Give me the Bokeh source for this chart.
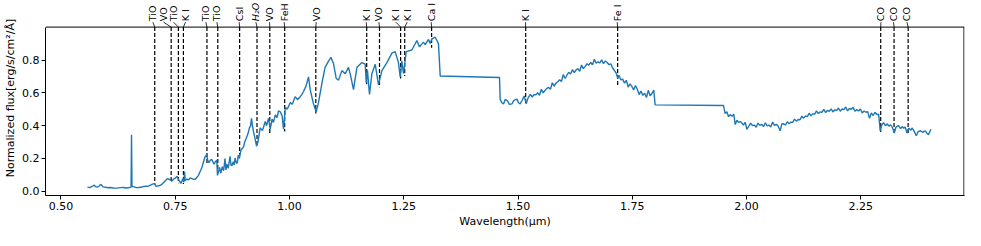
from bokeh.plotting import figure
from bokeh.models import Range1d, FixedTicker, NumeralTickFormatter
from bokeh.core.properties import value
from bokeh.embed import file_html
from bokeh.resources import INLINE

# spectrum pieces: (wavelength in micron, normalized flux)
optical = [(0.558, 0.025), (0.563, 0.022), (0.568, 0.029), (0.573, 0.037), (0.576, 0.028), (0.579, 0.025),
           (0.583, 0.030), (0.5875, 0.042), (0.592, 0.027), (0.598, 0.024), (0.603, 0.021), (0.608, 0.023),
           (0.615, 0.020), (0.6225, 0.019), (0.630, 0.022), (0.637, 0.023), (0.643, 0.020), (0.650, 0.023),
           (0.6535, 0.025), (0.6545, 0.345), (0.6555, 0.030), (0.660, 0.027), (0.665, 0.022), (0.670, 0.023),
           (0.677, 0.026), (0.6845, 0.031), (0.690, 0.030), (0.695, 0.036), (0.699, 0.042), (0.704, 0.047),
           (0.7085, 0.030), (0.712, 0.033), (0.717, 0.035), (0.722, 0.045), (0.728, 0.062), (0.733, 0.077),
           (0.739, 0.070), (0.743, 0.062), (0.746, 0.073), (0.750, 0.080), (0.754, 0.091), (0.758, 0.067),
           (0.7625, 0.048), (0.767, 0.077), (0.769, 0.055), (0.7705, 0.120), (0.772, 0.065), (0.775, 0.073),
           (0.779, 0.070), (0.783, 0.081), (0.788, 0.075), (0.794, 0.073), (0.801, 0.097), (0.8085, 0.145),
           (0.813, 0.190), (0.816, 0.213), (0.819, 0.223), (0.821, 0.190), (0.824, 0.174), (0.827, 0.190),
           (0.830, 0.194), (0.835, 0.165), (0.838, 0.180), (0.841, 0.190), (0.8425, 0.097), (0.845, 0.120),
           (0.847, 0.145), (0.850, 0.110), (0.853, 0.150), (0.856, 0.125), (0.859, 0.200), (0.861, 0.130),
           (0.863, 0.165), (0.866, 0.140), (0.870, 0.213), (0.872, 0.160), (0.874, 0.155), (0.877, 0.180),
           (0.879, 0.160), (0.881, 0.203), (0.884, 0.170), (0.886, 0.174), (0.888, 0.220), (0.8905, 0.200),
           (0.894, 0.252), (0.8995, 0.271), (0.902, 0.300), (0.905, 0.320), (0.909, 0.349), (0.9125, 0.387),
           (0.915, 0.400), (0.917, 0.445), (0.919, 0.400), (0.921, 0.368), (0.924, 0.330), (0.928, 0.275),
           (0.931, 0.300), (0.936, 0.387), (0.941, 0.370), (0.947, 0.426), (0.950, 0.400), (0.954, 0.445),
           (0.958, 0.380), (0.962, 0.440), (0.965, 0.420), (0.969, 0.465), (0.973, 0.450), (0.976, 0.490),
           (0.980, 0.484), (0.984, 0.460), (0.987, 0.378), (0.991, 0.513), (0.995, 0.500)]
j_band = [(1.002, 0.542), (1.006, 0.530), (1.0125, 0.577), (1.018, 0.560), (1.0235, 0.577), (1.027, 0.590),
          (1.031, 0.610), (1.036, 0.640), (1.0417, 0.698), (1.0454, 0.620), (1.0526, 0.533), (1.0585, 0.484),
          (1.0636, 0.542), (1.071, 0.659), (1.078, 0.756), (1.0855, 0.794), (1.0907, 0.817), (1.0964, 0.779),
          (1.1023, 0.688), (1.1073, 0.678), (1.1147, 0.736), (1.122, 0.717), (1.1292, 0.756), (1.1344, 0.698),
          (1.1401, 0.620), (1.1476, 0.756), (1.1585, 0.785), (1.1657, 0.775), (1.168, 0.659), (1.1707, 0.736),
          (1.1751, 0.591), (1.1803, 0.717), (1.1876, 0.775), (1.1948, 0.649), (1.2022, 0.736), (1.2132, 0.785),
          (1.2241, 0.843), (1.2313, 0.852), (1.2385, 0.785), (1.2422, 0.698), (1.2459, 0.794), (1.2495, 0.717),
          (1.2554, 0.852), (1.2678, 0.862), (1.2788, 0.920), (1.2845, 0.881), (1.2932, 0.910), (1.2969, 0.895),
          (1.3042, 0.926), (1.3079, 0.901), (1.3116, 0.930), (1.3188, 0.940), (1.3226, 0.920), (1.3260, 0.901),
          (1.3298, 0.703), (1.4595, 0.694)]
h_band = [(1.461, 0.562), (1.4645, 0.540), (1.4683, 0.533), (1.472, 0.560), (1.477, 0.552), (1.481, 0.530),
          (1.4866, 0.533), (1.491, 0.555), (1.4976, 0.562), (1.501, 0.540), (1.5048, 0.533), (1.509, 0.555),
          (1.5135, 0.581), (1.518, 0.533), (1.522, 0.570), (1.527, 0.591), (1.531, 0.575), (1.535, 0.590),
          (1.539, 0.588), (1.543, 0.601), (1.547, 0.585), (1.551, 0.622), (1.555, 0.600), (1.559, 0.615),
          (1.563, 0.628), (1.567, 0.633), (1.571, 0.622), (1.575, 0.662), (1.579, 0.641), (1.583, 0.660),
          (1.587, 0.668), (1.591, 0.680), (1.595, 0.670), (1.599, 0.712), (1.603, 0.688), (1.607, 0.708),
          (1.611, 0.725), (1.615, 0.716), (1.619, 0.742), (1.623, 0.724), (1.627, 0.740), (1.631, 0.748),
          (1.635, 0.732), (1.639, 0.770), (1.643, 0.748), (1.647, 0.762), (1.651, 0.778), (1.655, 0.770),
          (1.659, 0.786), (1.663, 0.772), (1.667, 0.805), (1.671, 0.782), (1.675, 0.790), (1.679, 0.784),
          (1.683, 0.802), (1.687, 0.779), (1.691, 0.795), (1.695, 0.786), (1.699, 0.772), (1.703, 0.778),
          (1.707, 0.752), (1.711, 0.736), (1.715, 0.720), (1.718, 0.690), (1.721, 0.708), (1.725, 0.680),
          (1.729, 0.684), (1.733, 0.660), (1.737, 0.677), (1.741, 0.636), (1.745, 0.655), (1.749, 0.640),
          (1.753, 0.618), (1.757, 0.645), (1.761, 0.622), (1.765, 0.590), (1.769, 0.612), (1.773, 0.585),
          (1.777, 0.598), (1.781, 0.572), (1.785, 0.616), (1.789, 0.583), (1.793, 0.596), (1.797, 0.618),
          (1.800, 0.527), (1.9496, 0.523)]
k_band = [(1.9532, 0.474), (1.957, 0.486), (1.9605, 0.455), (1.964, 0.468), (1.9679, 0.458), (1.972, 0.470),
          (1.9752, 0.407), (1.979, 0.433), (1.9824, 0.420), (1.987, 0.425), (1.9933, 0.404), (1.997, 0.421),
          (2.0008, 0.378), (2.005, 0.398), (2.009, 0.415), (2.013, 0.400), (2.017, 0.404), (2.021, 0.390),
          (2.025, 0.416), (2.029, 0.402), (2.033, 0.409), (2.037, 0.394), (2.041, 0.418), (2.045, 0.399),
          (2.049, 0.404), (2.053, 0.392), (2.057, 0.422), (2.061, 0.402), (2.065, 0.408), (2.069, 0.398),
          (2.0736, 0.368), (2.077, 0.410), (2.081, 0.412), (2.085, 0.404), (2.089, 0.424), (2.093, 0.412),
          (2.097, 0.422), (2.101, 0.420), (2.105, 0.440), (2.109, 0.428), (2.113, 0.438), (2.117, 0.436),
          (2.121, 0.458), (2.125, 0.446), (2.129, 0.460), (2.133, 0.455), (2.137, 0.476), (2.141, 0.460),
          (2.145, 0.474), (2.149, 0.470), (2.153, 0.490), (2.157, 0.474), (2.161, 0.484), (2.165, 0.482),
          (2.169, 0.499), (2.173, 0.480), (2.177, 0.494), (2.181, 0.488), (2.185, 0.503), (2.189, 0.484),
          (2.193, 0.497), (2.197, 0.492), (2.201, 0.508), (2.205, 0.488), (2.209, 0.502), (2.213, 0.498),
          (2.217, 0.514), (2.221, 0.490), (2.225, 0.506), (2.229, 0.500), (2.233, 0.512), (2.237, 0.488),
          (2.241, 0.498), (2.245, 0.490), (2.249, 0.502), (2.253, 0.478), (2.257, 0.490), (2.261, 0.482),
          (2.265, 0.486), (2.269, 0.445), (2.273, 0.478), (2.277, 0.462), (2.281, 0.482), (2.285, 0.468),
          (2.289, 0.470), (2.2924, 0.368), (2.296, 0.405), (2.2998, 0.418), (2.304, 0.400), (2.308, 0.412),
          (2.3107, 0.398), (2.315, 0.405), (2.319, 0.390), (2.3232, 0.355), (2.327, 0.392), (2.3326, 0.400),
          (2.337, 0.382), (2.341, 0.395), (2.3436, 0.384), (2.347, 0.392), (2.351, 0.355), (2.355, 0.385),
          (2.359, 0.372), (2.3619, 0.386), (2.366, 0.370), (2.3713, 0.339), (2.375, 0.362), (2.3801, 0.370),
          (2.385, 0.360), (2.3910, 0.368), (2.395, 0.352), (2.3981, 0.345), (2.4033, 0.378)]

spectrum = optical + j_band + h_band + k_band
wl = [w for w, f in spectrum]
flux = [f for w, f in spectrum]

# spectral line markers
line_names = ["TiO", "VO", "TiO", "K I", "TiO", "TiO", "CsI", "H\u2082O", "VO", "FeH", "VO",
              "K I", "VO", "K I", "K I", "Ca I", "K I", "Fe I", "CO", "CO", "CO"]
line_wl = [0.7053, 0.7412, 0.7570, 0.7680, 0.8195, 0.8432, 0.8910, 0.9290, 0.9570, 0.9896, 1.0577,
           1.1690, 1.1970, 1.2432, 1.2522, 1.3110, 1.5168, 1.7180, 2.2935, 2.3227, 2.3535]
line_bottom = [0.040, 0.058, 0.048, 0.044, 0.165, 0.130, 0.223, 0.281, 0.349, 0.364, 0.474,
               0.653, 0.634, 0.688, 0.703, 0.876, 0.527, 0.643, 0.362, 0.349, 0.349]
label_wl = [0.7013, 0.7245, 0.7463, 0.7726, 0.8172, 0.8413, 0.8900, 0.9266, 0.9564, 0.9885, 1.0585,
            1.1680, 1.1957, 1.2329, 1.2576, 1.3101, 1.5164, 1.7170, 2.2940, 2.3215, 2.3510]

x_ticks = [0.50, 0.75, 1.00, 1.25, 1.50, 1.75, 2.00, 2.25]
y_ticks = [0.0, 0.2, 0.4, 0.6, 0.8]

FONT = "DejaVu Sans"
x_lo, x_hi = 0.4663, 2.4768
y_lo, y_box = -0.026, 1.0017      # bottom and top of the axes box
y_canvas_top = 1.164               # frame extends above the box for the line labels
label_base = 1.0378
leader_top = 1.0318

p = figure(width=965, height=230, output_backend="svg", toolbar_location=None,
           x_range=Range1d(x_lo, x_hi), y_range=Range1d(y_lo, y_canvas_top),
           min_border_left=45, min_border_right=1, min_border_top=0, min_border_bottom=32)
p.grid.visible = False
p.outline_line_color = None
p.background_fill_color = "white"
p.border_fill_color = "white"

for ax in (p.xaxis[0], p.yaxis[0]):
    ax.axis_line_color = "black"
    ax.major_tick_line_color = "black"
    ax.major_tick_out = 4
    ax.major_tick_in = 0
    ax.minor_tick_line_color = None
    ax.major_label_text_font = FONT
    ax.major_label_text_font_size = "11px"
    ax.major_label_text_color = "black"
    ax.axis_label_text_font = FONT
    ax.axis_label_text_font_size = "11px"
    ax.axis_label_text_font_style = "normal"
    ax.axis_label_text_color = "black"
    ax.major_label_standoff = 2
    ax.axis_label_standoff = 2

p.yaxis.bounds = (y_lo, y_box)
p.xaxis.ticker = FixedTicker(ticks=x_ticks)
p.yaxis.ticker = FixedTicker(ticks=y_ticks)
p.xaxis.formatter = NumeralTickFormatter(format="0.00")
p.yaxis.formatter = NumeralTickFormatter(format="0.0")
p.xaxis.axis_label = "Wavelength(\u03bcm)"
p.yaxis.axis_label = "Normalized flux[erg/s/cm\u00b2/\u00c5]"

# top and right spines
x_edge = x_hi - 0.0012
p.segment(x0=[x_lo, x_edge], y0=[y_box, y_lo], x1=[x_hi, x_edge], y1=[y_box, y_box],
          line_color="black", line_width=1)

# dashed markers inside the axes
p.segment(x0=line_wl, y0=[y_box] * len(line_wl), x1=line_wl, y1=line_bottom,
          line_color="black", line_width=1.2, line_dash="4 2")

# spectrum
p.line(wl, flux, line_color="#1f77b4", line_width=1.4)

# leader lines above the axes
p.segment(x0=label_wl, y0=[leader_top] * len(label_wl), x1=line_wl, y1=[y_box] * len(line_wl),
          line_color="black", line_width=0.8)

plain = [i for i, n in enumerate(line_names) if not n.startswith("H")]
ital = [i for i, n in enumerate(line_names) if n.startswith("H")]
for idx, style in ((plain, "normal"), (ital, "italic")):
    p.text(x=[label_wl[i] for i in idx], y=[label_base] * len(idx), text=[line_names[i] for i in idx],
           angle=1.5707963, text_align="left", text_baseline="middle",
           text_font=value(FONT), text_font_size="9.5px", text_color="black", text_font_style=style)

open("out.html", "w").write(file_html(p, INLINE))
